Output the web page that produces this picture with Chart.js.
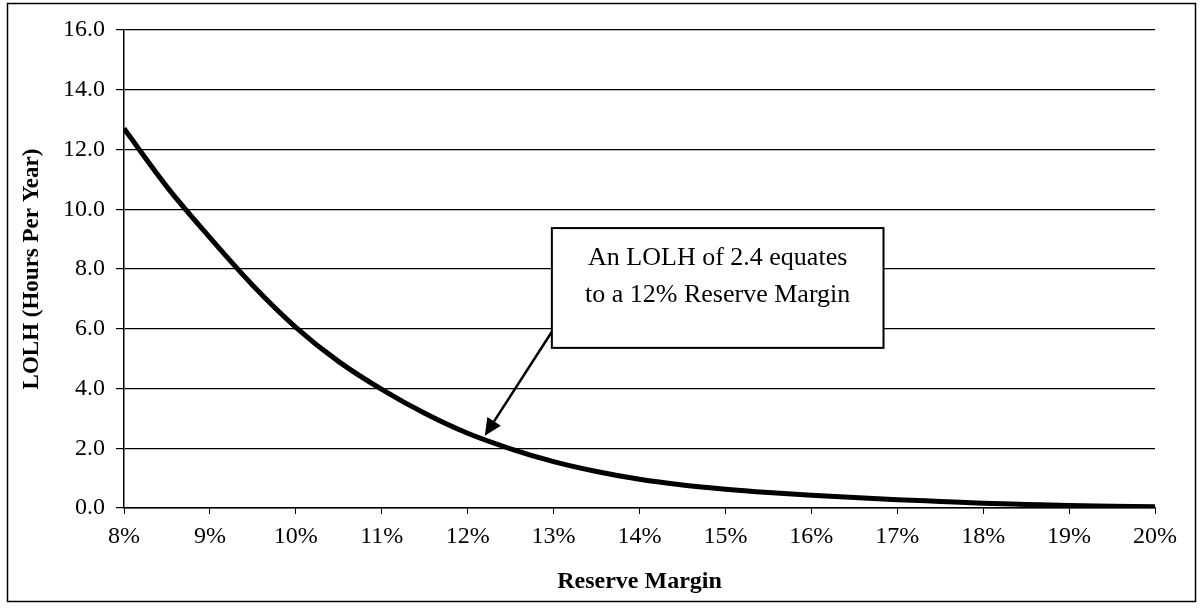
<!DOCTYPE html>
<html>
<head>
<meta charset="utf-8">
<script src="https://cdn.jsdelivr.net/npm/chart.js@4"></script>
<style>
  html, body { margin: 0; padding: 0; background: #fff; }
  .wrap { width: 1201px; height: 615px; }
</style>
</head>
<body>
<div class="wrap"><canvas id="chart-1" width="1201" height="615"></canvas></div>
<script>
// reserve margin (%) and loss of load hours
const reserveMargin = [8, 8.5, 9, 9.5, 10, 10.5, 11, 11.5, 12, 12.5, 13, 13.5, 14, 14.5, 15, 15.5, 16, 16.5, 17, 17.5, 18, 18.5, 19, 19.5, 20];
const lolh = [12.7, 10.75, 9.05, 7.45, 6.05, 4.9, 3.97, 3.17, 2.5, 1.98, 1.55, 1.22, 0.96, 0.77, 0.63, 0.52, 0.43, 0.35, 0.28, 0.22, 0.16, 0.12, 0.08, 0.06, 0.04];

const yTicks = [0, 2, 4, 6, 8, 10, 12, 14, 16];
const xTicks = [8, 9, 10, 11, 12, 13, 14, 15, 16, 17, 18, 19, 20];

const noteLines = ["An LOLH of 2.4 equates", "to a 12% Reserve Margin"];

const serif = "'Liberation Serif', 'Times New Roman', serif";

const points = reserveMargin.map((x, i) => ({ x: x, y: lolh[i] }));

// outer frame round the whole figure
const framePlugin = {
  id: "frame",
  afterDraw(chart) {
    const ctx = chart.ctx;
    ctx.save();
    ctx.strokeStyle = "#000";
    ctx.lineWidth = 1.5;
    ctx.strokeRect(7.5, 3.5, 1188, 598);
    ctx.restore();
  }
};

// callout box and arrow
const notePlugin = {
  id: "note",
  afterDraw(chart) {
    const ctx = chart.ctx;
    const xs = chart.scales.x, ys = chart.scales.y;
    const left = xs.getPixelForValue(12.98);
    const right = xs.getPixelForValue(16.84);
    const top = ys.getPixelForValue(9.37);
    const bottom = ys.getPixelForValue(5.36);

    ctx.save();
    ctx.fillStyle = "#fff";
    ctx.fillRect(left, top, right - left, bottom - top);
    ctx.strokeStyle = "#000";
    ctx.lineWidth = 2;
    ctx.strokeRect(left, top, right - left, bottom - top);

    ctx.fillStyle = "#000";
    ctx.font = "26px " + serif;
    ctx.textAlign = "center";
    ctx.textBaseline = "middle";
    const cx = (left + right) / 2;
    ctx.fillText(noteLines[0], cx, top + 30);
    ctx.fillText(noteLines[1], cx, top + 67);

    // arrow
    const sx = left, sy = ys.getPixelForValue(5.9);
    const tx = xs.getPixelForValue(12.2), ty = ys.getPixelForValue(2.42);
    const ang = Math.atan2(ty - sy, tx - sx);
    const headLen = 17, headW = 8;
    const bx = tx - headLen * Math.cos(ang), by = ty - headLen * Math.sin(ang);
    ctx.lineWidth = 2.5;
    ctx.beginPath();
    ctx.moveTo(sx, sy);
    ctx.lineTo(bx, by);
    ctx.stroke();
    ctx.beginPath();
    ctx.moveTo(tx, ty);
    ctx.lineTo(bx + headW * Math.sin(ang), by - headW * Math.cos(ang));
    ctx.lineTo(bx - headW * Math.sin(ang), by + headW * Math.cos(ang));
    ctx.closePath();
    ctx.fill();
    ctx.restore();
  }
};

new Chart(document.getElementById("chart-1"), {
  type: "line",
  data: {
    datasets: [{
      label: "LOLH",
      data: points,
      borderColor: "#000",
      borderWidth: 5,
      pointRadius: 0,
      cubicInterpolationMode: "monotone",
      fill: false
    }]
  },
  options: {
    responsive: false,
    animation: false,
    devicePixelRatio: 1,
    layout: { padding: { left: 10, right: 46, top: 30, bottom: 15 } },
    plugins: {
      legend: { display: false },
      tooltip: { enabled: false }
    },
    scales: {
      x: {
        type: "linear",
        min: 8,
        max: 20,
        afterFit: s => { s.height = 615 - 508 - 15; },
        afterBuildTicks: s => { s.ticks = xTicks.map(v => ({ value: v })); },
        ticks: {
          color: "#000",
          font: { family: serif, size: 24 },
          padding: 8,
          maxRotation: 0,
          callback: v => v + "%"
        },
        grid: {
          drawOnChartArea: false,
          drawTicks: true,
          tickLength: 6,
          color: "#000",
          lineWidth: 1
        },
        border: { display: true, color: "#000", width: 1.5 },
        title: {
          display: true,
          text: "Reserve Margin",
          color: "#000",
          font: { family: serif, size: 24, weight: "bold" },
          padding: { top: 4, bottom: 4 }
        }
      },
      y: {
        min: 0,
        max: 16,
        afterFit: s => { s.width = 124 - 10; },
        afterBuildTicks: s => { s.ticks = yTicks.map(v => ({ value: v })); },
        ticks: {
          color: "#000",
          font: { family: serif, size: 24 },
          padding: 11,
          callback: v => v.toFixed(1)
        },
        grid: {
          color: "#000",
          lineWidth: 1.2,
          drawTicks: true,
          tickLength: 8
        },
        border: { display: true, color: "#000", width: 1.5 },
        title: {
          display: true,
          text: "LOLH (Hours Per Year)",
          color: "#000",
          font: { family: serif, size: 23, weight: "bold" },
          padding: { top: 8, bottom: 4 }
        }
      }
    }
  },
  plugins: [framePlugin, notePlugin]
});
</script>
</body>
</html>
